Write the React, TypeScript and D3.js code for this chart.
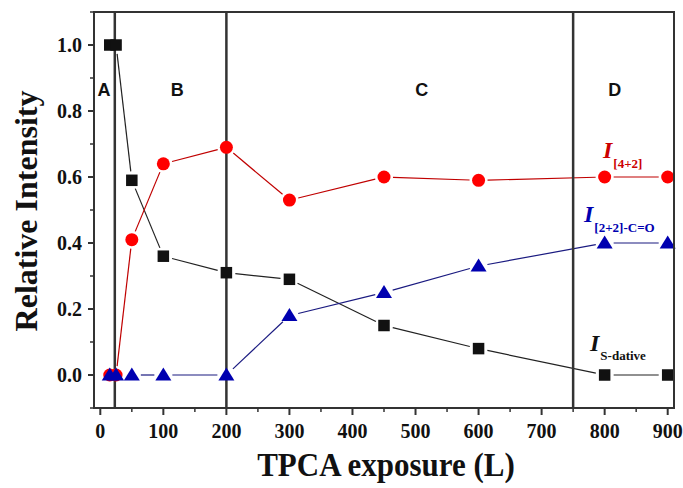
import React from "react";
import * as d3 from "d3";

const exposure = [15, 25, 50, 100, 200, 300, 450, 600, 800, 900];
const sDative = [1.0, 1.0, 0.59, 0.36, 0.31, 0.29, 0.15, 0.08, 0.0, 0.0];
const i42 = [0.0, 0.0, 0.41, 0.64, 0.69, 0.53, 0.6, 0.59, 0.6, 0.6];
const i22 = [0.0, 0.0, 0.0, 0.0, 0.0, 0.18, 0.25, 0.33, 0.4, 0.4];
const xTicks = [0, 100, 200, 300, 400, 500, 600, 700, 800, 900];
const yTicks = [0.0, 0.2, 0.4, 0.6, 0.8, 1.0];
const regionBounds = [23, 200, 750];
const regionLabels = [
  { t: "A", x: 6 },
  { t: "B", x: 122 },
  { t: "C", x: 510 },
  { t: "D", x: 816 },
];

const W = 683, H = 488;
const L = 94, R = 674, T = 12, B = 408;

export default function App() {
  const x = d3.scaleLinear().domain([-10, 910]).range([L, R]);
  const y = d3.scaleLinear().domain([-0.1, 1.1]).range([B, T]);
  const frame = "#333";

  const gapSegments = (vals: number[], gap: number) => {
    const pts = exposure.map((e, i) => [x(e), y(vals[i])]);
    const segs: any[] = [];
    for (let i = 0; i < pts.length - 1; i++) {
      const [x1, y1] = pts[i], [x2, y2] = pts[i + 1];
      const len = Math.hypot(x2 - x1, y2 - y1);
      if (len <= 2 * gap + 1) continue;
      const ux = (x2 - x1) / len, uy = (y2 - y1) / len;
      segs.push([x1 + ux * gap, y1 + uy * gap, x2 - ux * gap, y2 - uy * gap]);
    }
    return segs;
  };

  const serif = "'Liberation Serif', 'Times New Roman', serif";
  const sans = "'Liberation Sans', Arial, sans-serif";

  const minorX = d3.range(50, 901, 100);
  const minorY = d3.range(-0.1, 1.11, 0.2).map((v) => +v.toFixed(2));

  const series = [
    { vals: sDative, color: "#111", line: "#222", shape: "square" },
    { vals: i42, color: "#ff0000", line: "#c00000", shape: "circle" },
    { vals: i22, color: "#0000b0", line: "#1a1a80", shape: "triangle" },
  ];

  return (
    <svg width={W} height={H} style={{ position: "absolute", left: 0, top: 0, background: "#fff" }}>
      {series.map((s, si) =>
        gapSegments(s.vals, 9).map((g, i) => (
          <line key={`l${si}-${i}`} x1={g[0]} y1={g[1]} x2={g[2]} y2={g[3]} stroke={s.line} strokeWidth={1.2} />
        ))
      )}
      {regionBounds.map((v) => (
        <line key={`r${v}`} x1={x(v)} x2={x(v)} y1={T} y2={B} stroke={frame} strokeWidth={2.5} />
      ))}
      {series.map((s, si) =>
        exposure.map((e, i) => {
          const cx = x(e), cy = y(s.vals[i]);
          if (s.shape === "square")
            return <rect key={`m${si}-${i}`} x={cx - 5.75} y={cy - 5.75} width={11.5} height={11.5} fill={s.color} />;
          if (s.shape === "circle")
            return <circle key={`m${si}-${i}`} cx={cx} cy={cy} r={6.5} fill={s.color} />;
          return (
            <path key={`m${si}-${i}`} d={`M${cx},${cy - 7.5} L${cx + 8},${cy + 5.5} L${cx - 8},${cy + 5.5} Z`} fill={s.color} />
          );
        })
      )}
      <rect x={L} y={T} width={R - L} height={B - T} fill="none" stroke={frame} strokeWidth={2} />
      {yTicks.map((v) => (
        <g key={`yt${v}`}>
          <line x1={L - 6} x2={L} y1={y(v)} y2={y(v)} stroke={frame} strokeWidth={2} />
          <text x={L - 12} y={y(v) + 6.5} textAnchor="end" fontFamily={serif} fontWeight="bold" fontSize={20} fill="#111">
            {v.toFixed(1)}
          </text>
        </g>
      ))}
      {minorY.map((v) => (
        <line key={`ym${v}`} x1={L - 4} x2={L} y1={y(v)} y2={y(v)} stroke={frame} strokeWidth={1.5} />
      ))}
      {xTicks.map((v) => (
        <g key={`xt${v}`}>
          <line x1={x(v)} x2={x(v)} y1={B} y2={B + 7} stroke={frame} strokeWidth={2} />
          <text x={x(v)} y={B + 30} textAnchor="middle" fontFamily={serif} fontWeight="bold" fontSize={20} fill="#111">
            {v}
          </text>
        </g>
      ))}
      {minorX.map((v) => (
        <line key={`xm${v}`} x1={x(v)} x2={x(v)} y1={B} y2={B + 4} stroke={frame} strokeWidth={1.5} />
      ))}
      {regionLabels.map((r) => (
        <text key={r.t} x={x(r.x)} y={96} textAnchor="middle" fontFamily={sans} fontWeight="bold" fontSize={18} fill="#111">
          {r.t}
        </text>
      ))}
      <text transform="translate(386,476) scale(1,1.1)" textAnchor="middle" fontFamily={serif} fontWeight="bold" fontSize={31} fill="#111">
        TPCA exposure (L)
      </text>
      <text transform="translate(37,211) rotate(-90)" textAnchor="middle" fontFamily={serif} fontWeight="bold" fontSize={32} fill="#111">
        Relative Intensity
      </text>
      <text x={603} y={158} fontFamily={serif} fontWeight="bold" fill="#cc0000">
        <tspan fontStyle="italic" fontSize={24}>I</tspan>
        <tspan fontSize={13} dy={10} dx={1}>[4+2]</tspan>
      </text>
      <text x={584} y={222} fontFamily={serif} fontWeight="bold" fill="#0000b0">
        <tspan fontStyle="italic" fontSize={24}>I</tspan>
        <tspan fontSize={13} dy={10} dx={1}>[2+2]-C=O</tspan>
      </text>
      <text x={590} y={351} fontFamily={serif} fontWeight="bold" fill="#111">
        <tspan fontStyle="italic" fontSize={24}>I</tspan>
        <tspan fontSize={13} dy={9} dx={1}>S-dative</tspan>
      </text>
    </svg>
  );
}
